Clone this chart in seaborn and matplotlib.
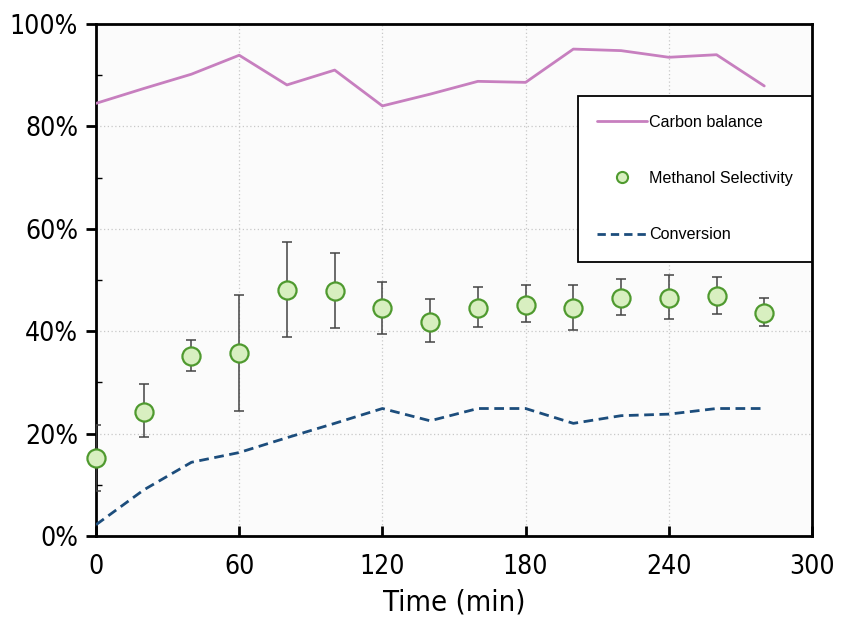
import numpy as np
import pandas as pd
import matplotlib
matplotlib.use("Agg")
import matplotlib.pyplot as plt
import seaborn as sns
from matplotlib.lines import Line2D
from matplotlib.ticker import FuncFormatter, MultipleLocator
from matplotlib.font_manager import FontProperties

time_min = [0, 20, 40, 60, 80, 100, 120, 140, 160, 180, 200, 220, 240, 260, 280]
carbon_balance = [84.5, 87.4, 90.2, 93.9, 88.1, 91.0, 84.0, 86.3, 88.8, 88.6, 95.1, 94.8, 93.5, 94.0, 87.9]
conversion = [2.2, 9.0, 14.4, 16.3, 19.2, 22.0, 24.9, 22.5, 24.9, 24.9, 22.0, 23.5, 23.8, 24.9, 24.9]
selectivity = [15.2, 24.3, 35.2, 35.7, 48.0, 47.9, 44.5, 41.8, 44.6, 45.2, 44.5, 46.5, 46.5, 46.9, 43.6]
sel_upper = [21.7, 29.6, 38.3, 47.0, 57.4, 55.3, 49.7, 46.2, 48.6, 49.0, 49.0, 50.2, 51.0, 50.5, 46.5]
sel_lower = [8.7, 19.3, 32.2, 24.4, 38.8, 40.6, 39.4, 37.8, 40.9, 41.8, 40.2, 43.1, 42.4, 43.3, 41.1]

x_ticks = [0, 60, 120, 180, 240, 300]
y_ticks = [0, 20, 40, 60, 80, 100]

df = pd.DataFrame({"time": time_min, "cb": carbon_balance, "conv": conversion,
                   "sel": selectivity, "up": sel_upper, "lo": sel_lower})

sns.set_style("white")
plt.rcParams['font.family'] = ['Liberation Sans Narrow', 'DejaVu Sans']
plt.rcParams['font.stretch'] = 'condensed'
plt.rcParams['text.color'] = 'black'
plt.rcParams['axes.labelcolor'] = 'black'

fig = plt.figure(figsize=(8.48, 6.17), dpi=100)
ax = fig.add_axes([96/848, 1-536/617, (812-96)/848, (536-24)/617])
ax.set_facecolor("#fbfbfb")

pink = "#c77fbf"
blue = "#1c4d7c"
green_edge = "#4f9a2f"
green_face = "#d8efc0"

sns.lineplot(data=df, x="time", y="cb", ax=ax, color=pink, linewidth=2, legend=False, zorder=3)
sns.lineplot(data=df, x="time", y="conv", ax=ax, color=blue, linewidth=2, legend=False, zorder=3)
ax.lines[-1].set_dashes([3.5, 2])

yerr = np.array([df["sel"] - df["lo"], df["up"] - df["sel"]])
ax.errorbar(df["time"], df["sel"], yerr=yerr, fmt="none", ecolor="#444444",
            elinewidth=1.1, capsize=3.5, capthick=1.1, zorder=4)
sns.scatterplot(data=df, x="time", y="sel", ax=ax, s=170, color=green_face,
                edgecolor=green_edge, linewidth=1.6, zorder=5, legend=False, clip_on=False)

ax.set_xlim(0, 300)
ax.set_ylim(0, 100)
ax.set_xticks(x_ticks)
ax.set_yticks(y_ticks)
ax.yaxis.set_minor_locator(MultipleLocator(10))
ax.yaxis.set_major_formatter(FuncFormatter(lambda v, p: f"{int(v)}%"))
ax.grid(True, which="major", linestyle=(0, (1, 2)), color="#c8c8c8", linewidth=0.9)
ax.set_axisbelow(True)

for s in ax.spines.values():
    s.set_color("black")
    s.set_linewidth(2)

ax.tick_params(axis="x", which="major", direction="in", length=7, width=2, labelsize=19, pad=13,
               color="black", labelcolor="black")
ax.tick_params(axis="y", which="major", direction="out", length=7, width=2, labelsize=19, pad=6,
               color="black", labelcolor="black")
ax.tick_params(axis="y", which="minor", direction="in", length=4, width=1, left=True, color="black")
ax.tick_params(axis="x", which="major", bottom=True)
ax.tick_params(axis="y", which="major", left=True)

ax.set_xlabel("Time (min)", fontsize=21, labelpad=6, color="black")
ax.set_ylabel("")

handles = [
    Line2D([0], [0], color=pink, linewidth=2),
    Line2D([0], [0], marker="o", linestyle="none", markersize=8, markerfacecolor=green_face,
           markeredgecolor=green_edge, markeredgewidth=1.5),
    Line2D([0], [0], color=blue, linewidth=2, dashes=[3, 1.8]),
]
leg_font = FontProperties(family=['Liberation Sans', 'DejaVu Sans'], stretch='normal', size=11.6)
leg = ax.legend(handles, ["Carbon balance", "Methanol Selectivity", "Conversion"],
                loc="upper right", bbox_to_anchor=(1.0, 0.86), frameon=True, fancybox=False,
                prop=leg_font, labelspacing=2.55, handlelength=3.1, handletextpad=0.1,
                borderpad=1.2, borderaxespad=0)
leg.get_frame().set_edgecolor("black")
leg.get_frame().set_linewidth(1.3)
leg.get_frame().set_facecolor("white")
leg.get_frame().set_alpha(1)
for t in leg.get_texts():
    t.set_color("black")

fig.savefig("out.png", dpi=100)
